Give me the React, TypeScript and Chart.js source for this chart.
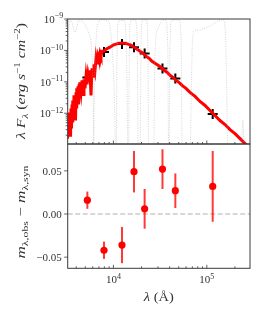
import React, { useEffect, useRef } from "react";
import { Chart, registerables } from "chart.js";
Chart.register(...registerables);

// ---------------- data ----------------
const photWave = [5260, 7930, 12350, 16620, 21590, 33526, 46028, 115608];
const photFlux = [1.37e-11, 8.9e-11, 1.6e-10, 1.25e-10, 8.0e-11, 2.66e-11, 1.27e-11, 9.5e-13];
const residual = [0.016, -0.042, -0.036, 0.049, 0.006, 0.052, 0.027, 0.032];
const residualErr = [0.01, 0.01, 0.021, 0.024, 0.023, 0.023, 0.02, 0.041];

// synthetic spectrum (log10 wavelength [A], log10 lambda*F_lambda)
const modelLogWave = [
  3.503, 3.509, 3.514, 3.519, 3.525, 3.53, 3.535, 3.541, 3.546, 3.551, 3.557, 3.562, 3.567, 3.573,
  3.578, 3.583, 3.589, 3.594, 3.6, 3.605, 3.61, 3.616, 3.621, 3.626, 3.632, 3.637, 3.642, 3.653,
  3.664, 3.675, 3.685, 3.696, 3.707, 3.717, 3.728, 3.739, 3.749, 3.76, 3.771, 3.782, 3.792, 3.803,
  3.814, 3.824, 3.835, 3.846, 3.857, 3.867, 3.878, 3.899, 3.921, 3.942, 3.964, 3.996, 4.028, 4.06,
  4.092, 4.124, 4.156, 4.188, 4.221, 4.253, 4.285, 4.317, 4.349, 4.381, 4.413, 4.445, 4.478, 4.51,
  4.542, 4.574, 4.606, 4.638, 4.67, 4.702, 4.735, 4.777, 4.82, 4.874, 4.927, 4.981, 5.034, 5.088,
  5.141, 5.195, 5.248, 5.302, 5.356, 5.409, 5.463,
];
const modelLogFlux = [
  -12.392, -12.808, -12.168, -12.616, -11.976, -12.552, -12.232, -12.744, -11.848, -12.488, -11.72,
  -12.296, -11.592, -12.168, -11.432, -11.976, -11.528, -12.232, -11.336, -11.848, -11.208, -11.592,
  -11.144, -11.72, -11.08, -11.464, -11.016, -11.336, -10.952, -11.4, -10.92, -11.208, -10.824,
  -11.08, -10.76, -10.952, -10.632, -11.432, -10.568, -10.824, -10.44, -10.632, -10.248, -10.44,
  -10.184, -10.312, -10.088, -10.184, -10.024, -10.024, -9.96, -9.928, -9.896, -9.832, -9.8, -9.768,
  -9.768, -9.768, -9.8, -9.832, -9.896, -9.96, -10.024, -10.088, -10.184, -10.248, -10.344, -10.408,
  -10.472, -10.536, -10.632, -10.696, -10.792, -10.856, -10.952, -11.016, -11.112, -11.208, -11.336,
  -11.464, -11.624, -11.752, -11.912, -12.072, -12.232, -12.36, -12.52, -12.648, -12.808, -12.968,
  -13.096,
];

// filter transmission curves (wavelength [A], relative transmission)
const optBlueWave = [3200, 3280, 3330, 3400, 3500, 3620, 3750, 3880, 4000, 4150, 4300, 4550, 4900, 5300, 5700, 5950, 6080, 6200];
const optBlueTrans = [0.00001, 0.05, 0.5, 0.9, 0.93, 0.75, 0.45, 0.38, 0.45, 0.75, 0.93, 0.9, 0.7, 0.45, 0.25, 0.05, 0.003, 0.00001];
const optRedWave = [6100, 6250, 6450, 6700, 7000, 7500, 8200, 8700, 9100, 9400, 9800, 10200, 10700];
const optRedTrans = [0.00001, 0.005, 0.15, 0.6, 0.9, 0.95, 0.93, 0.9, 0.7, 0.35, 0.08, 0.005, 0.00001];
const jWave = [10700, 10900, 11100, 11400, 11800, 12400, 13000, 13400, 13700, 14000, 14300];
const jTrans = [0.00001, 0.05, 0.6, 0.9, 0.93, 0.88, 0.92, 0.7, 0.2, 0.01, 0.00001];
const hWave = [14500, 14800, 15000, 15400, 16000, 16800, 17400, 17800, 18100, 18400];
const hTrans = [0.00001, 0.1, 0.7, 0.93, 0.95, 0.93, 0.9, 0.5, 0.05, 0.00001];
const kWave = [19300, 19700, 20000, 20500, 21200, 22000, 22800, 23200, 23500, 23800];
const kTrans = [0.00001, 0.1, 0.75, 0.93, 0.95, 0.93, 0.9, 0.5, 0.05, 0.00001];
const w1Wave = [27000, 27700, 28500, 29500, 30500, 31500, 32500, 33500, 35000, 36500, 37500, 38300, 39000];
const w1Trans = [0.00001, 0.05, 0.3, 0.45, 0.55, 0.7, 0.85, 0.93, 0.95, 0.9, 0.6, 0.1, 0.00001];
const w2Wave = [39500, 40200, 41000, 42000, 44000, 47000, 50000, 52000, 53200, 54500];
const w2Trans = [0.00001, 0.1, 0.7, 0.9, 0.93, 0.95, 0.93, 0.8, 0.2, 0.00001];
const w3Wave = [66000, 68500, 70000, 72000, 76000, 84000, 95000, 108000, 122000, 135000, 148000, 155000, 159000, 163000, 168000];
const w3Trans = [0.00001, 0.01, 0.2, 0.4, 0.44, 0.45, 0.5, 0.6, 0.75, 0.9, 0.95, 0.85, 0.3, 0.01, 0.00001];
const w4Wave = [228000, 236000, 240000, 243000, 246000, 250000, 256000];
const w4Trans = [0.000001, 0.00008, 0.0004, 0.0006, 0.0004, 0.00008, 0.000001];
const filterCurves = [
  [optBlueWave, optBlueTrans], [optRedWave, optRedTrans], [jWave, jTrans], [hWave, hTrans],
  [kWave, kTrans], [w1Wave, w1Trans], [w2Wave, w2Trans], [w3Wave, w3Trans], [w4Wave, w4Trans],
];
const filterPeakFlux = 1e-9;

// axes
const X_MIN = 3240, X_MAX = 290000;
const Y_MIN = 1.05e-13, Y_MAX = 1e-9;
const R_MIN = -0.0629, R_MAX = 0.0811;
const xMajorTicks = [1e4, 1e5];
const fluxMajorTicks = [1e-12, 1e-11, 1e-10, 1e-9];
const resTicks = [-0.05, 0, 0.05];
const resTickLabels = ["\u22120.05", "0.00", "0.05"];

// ---------------- layout / style ----------------
const W = 266, H = 319;
const LEFT = 67.7, RIGHT = 250, TOP1 = 19, MID = 144, BOT2 = 268.3;
const FAMILY = '"Liberation Serif", "DejaVu Serif", serif';
const AXIS = "#3a3a3a";
const TEXT = "#333";

type Seg = { t: string; size: number; italic?: boolean; dy?: number };
const fontOf = (s: Seg) => `${s.italic ? "italic " : ""}${s.size}px ${FAMILY}`;

function drawRich(ctx: CanvasRenderingContext2D, segs: Seg[], x: number, y: number, align: string, target?: number) {
  const ws = segs.map((s) => { ctx.font = fontOf(s); return ctx.measureText(s.t).width; });
  const total = ws.reduce((a, b) => a + b, 0);
  const sx = target ? target / total : 1;
  ctx.save();
  ctx.translate(x, y);
  ctx.scale(sx, 1);
  ctx.textAlign = "left";
  ctx.textBaseline = "alphabetic";
  ctx.fillStyle = TEXT;
  let cx = align === "center" ? -total / 2 : align === "right" ? -total : 0;
  segs.forEach((s, i) => { ctx.font = fontOf(s); ctx.fillText(s.t, cx, s.dy || 0); cx += ws[i]; });
  ctx.restore();
}

function logTicks(min: number, max: number) {
  const out: { v: number; major: boolean }[] = [];
  for (let e = Math.floor(Math.log10(min)); e <= Math.ceil(Math.log10(max)); e++) {
    for (let k = 1; k < 10; k++) {
      const v = k * Math.pow(10, e);
      if (v >= min * 0.9999 && v <= max * 1.0001) out.push({ v, major: k === 1 });
    }
  }
  return out;
}

function line(ctx: CanvasRenderingContext2D, x1: number, y1: number, x2: number, y2: number) {
  ctx.beginPath(); ctx.moveTo(x1, y1); ctx.lineTo(x2, y2); ctx.stroke();
}

const topDecor = {
  id: "topDecor",
  afterDraw(chart: any) {
    const { ctx, chartArea: a } = chart;
    const xs = chart.scales.x, ys = chart.scales.y;
    ctx.save();
    ctx.strokeStyle = AXIS; ctx.lineWidth = 1;
    ctx.strokeRect(a.left, a.top, a.right - a.left, a.bottom - a.top);
    ctx.lineWidth = 0.8;
    for (const t of logTicks(X_MIN, X_MAX)) {
      const px = xs.getPixelForValue(t.v);
      line(ctx, px, a.bottom, px, a.bottom - (t.major ? 3.5 : 2));
    }
    for (const t of logTicks(Y_MIN, Y_MAX)) {
      const py = ys.getPixelForValue(t.v);
      line(ctx, a.left - (t.major ? 3.5 : 2), py, a.left, py);
    }
    for (const v of fluxMajorTicks) {
      const py = ys.getPixelForValue(v);
      const e = Math.round(Math.log10(v));
      drawRich(ctx, [{ t: "10", size: 11 }, { t: "\u2212" + Math.abs(e), size: 8, dy: -4.5 }], a.left - 4.5, py + 3.8, "right");
    }
    // y title
    ctx.save();
    ctx.translate(25, 81);
    ctx.rotate(-Math.PI / 2);
    drawRich(ctx, [
      { t: "\u03bb ", size: 13, italic: true },
      { t: "F", size: 13, italic: true },
      { t: "\u03bb", size: 9, italic: true, dy: 3 },
      { t: " (", size: 13 },
      { t: "erg", size: 13, italic: true },
      { t: " s", size: 13, italic: true },
      { t: "\u22121", size: 9, dy: -5 },
      { t: " cm", size: 13, italic: true },
      { t: "\u22122", size: 9, dy: -5 },
      { t: ")", size: 13 },
    ], 0, 0, "center", 116);
    ctx.restore();
    ctx.restore();
  },
};

const bottomDecor = {
  id: "bottomDecor",
  beforeDatasetsDraw(chart: any) {
    const { ctx, chartArea: a } = chart;
    const xs = chart.scales.x, ys = chart.scales.y;
    ctx.save();
    const y0 = ys.getPixelForValue(0);
    ctx.strokeStyle = "#b0b0b0"; ctx.lineWidth = 1; ctx.setLineDash([5, 2.5]);
    line(ctx, a.left, y0, a.right, y0);
    ctx.setLineDash([]);
    ctx.strokeStyle = "rgba(255,0,0,0.78)"; ctx.lineWidth = 2;
    photWave.forEach((w, i) => {
      const px = xs.getPixelForValue(w);
      line(ctx, px, ys.getPixelForValue(residual[i] - residualErr[i]), px, ys.getPixelForValue(residual[i] + residualErr[i]));
    });
    ctx.restore();
  },
  afterDraw(chart: any) {
    const { ctx, chartArea: a } = chart;
    const xs = chart.scales.x, ys = chart.scales.y;
    ctx.save();
    ctx.strokeStyle = AXIS; ctx.lineWidth = 1;
    ctx.strokeRect(a.left, a.top, a.right - a.left, a.bottom - a.top);
    ctx.lineWidth = 0.8;
    for (const t of logTicks(X_MIN, X_MAX)) {
      const px = xs.getPixelForValue(t.v);
      line(ctx, px, a.bottom, px, a.bottom - (t.major ? 3.5 : 2));
    }
    resTicks.forEach((v, i) => {
      const py = ys.getPixelForValue(v);
      line(ctx, a.left - 3.5, py, a.left, py);
      drawRich(ctx, [{ t: resTickLabels[i], size: 11 }], a.left - 6, py + 3.8, "right");
    });
    for (const v of xMajorTicks) {
      const px = xs.getPixelForValue(v);
      const e = Math.round(Math.log10(v));
      drawRich(ctx, [{ t: "10", size: 11 }, { t: String(e), size: 8, dy: -4.5 }], px, 283, "center");
    }
    drawRich(ctx, [{ t: "\u03bb", size: 13, italic: true }, { t: " (\u00c5)", size: 13 }], (a.left + a.right) / 2, 301, "center", 30);
    ctx.save();
    ctx.translate(25, 212);
    ctx.rotate(-Math.PI / 2);
    drawRich(ctx, [
      { t: "m", size: 13, italic: true },
      { t: "\u03bb,obs", size: 9, dy: 3 },
      { t: " \u2212 ", size: 13 },
      { t: "m", size: 13, italic: true },
      { t: "\u03bb,syn", size: 9, dy: 3 },
    ], 0, 0, "center", 93);
    ctx.restore();
    ctx.restore();
  },
};

export default function App() {
  const topRef = useRef<HTMLCanvasElement>(null);
  const botRef = useRef<HTMLCanvasElement>(null);

  useEffect(() => {
    const filterSets = filterCurves.map(([wv, tr]) => ({
      type: "line",
      data: wv.map((w, i) => ({ x: w, y: tr[i] * filterPeakFlux })),
      borderColor: "rgba(165,165,165,0.6)",
      borderWidth: 0.8,
      borderDash: [1, 1.4],
      pointRadius: 0,
      tension: 0,
    }));
    const modelSet = {
      type: "line",
      data: modelLogWave.map((lw, i) => ({ x: Math.pow(10, lw), y: Math.pow(10, modelLogFlux[i]) })),
      borderColor: "#ff0000",
      borderWidth: 3,
      pointRadius: 0,
      tension: 0,
    };
    const photSet = {
      type: "line",
      showLine: false,
      data: photWave.map((w, i) => ({ x: w, y: photFlux[i] })),
      pointStyle: "cross",
      pointRadius: 5,
      pointBorderWidth: 2,
      pointBorderColor: "#000",
      borderColor: "#000",
    };
    const common: any = {
      responsive: false,
      animation: false,
      devicePixelRatio: 1,
      events: [],
      plugins: { legend: { display: false }, tooltip: { enabled: false } },
    };
    const top = new Chart(topRef.current!, {
      type: "line",
      data: { datasets: [...filterSets, modelSet, photSet] as any },
      options: {
        ...common,
        layout: { padding: { left: LEFT, right: W - RIGHT, top: TOP1, bottom: H - MID } },
        scales: {
          x: { type: "logarithmic", min: X_MIN, max: X_MAX, display: false },
          y: { type: "logarithmic", min: Y_MIN, max: Y_MAX, display: false },
        },
      },
      plugins: [topDecor],
    });
    const bot = new Chart(botRef.current!, {
      type: "line",
      data: {
        datasets: [
          {
            showLine: false,
            data: photWave.map((w, i) => ({ x: w, y: residual[i] })),
            pointRadius: 3.6,
            pointBackgroundColor: "#ff0000",
            pointBorderWidth: 0,
            borderColor: "#ff0000",
          },
        ] as any,
      },
      options: {
        ...common,
        layout: { padding: { left: LEFT, right: W - RIGHT, top: MID, bottom: H - BOT2 } },
        scales: {
          x: { type: "logarithmic", min: X_MIN, max: X_MAX, display: false },
          y: { type: "linear", min: R_MIN, max: R_MAX, display: false },
        },
      },
      plugins: [bottomDecor],
    });
    return () => { top.destroy(); bot.destroy(); };
  }, []);

  const cs: React.CSSProperties = { position: "absolute", left: 0, top: 0, width: W, height: H };
  return (
    <div style={{ position: "fixed", left: 0, top: 0, width: W, height: H, background: "#fff" }}>
      <canvas ref={topRef} width={W} height={H} style={cs} />
      <canvas ref={botRef} width={W} height={H} style={cs} />
    </div>
  );
}
